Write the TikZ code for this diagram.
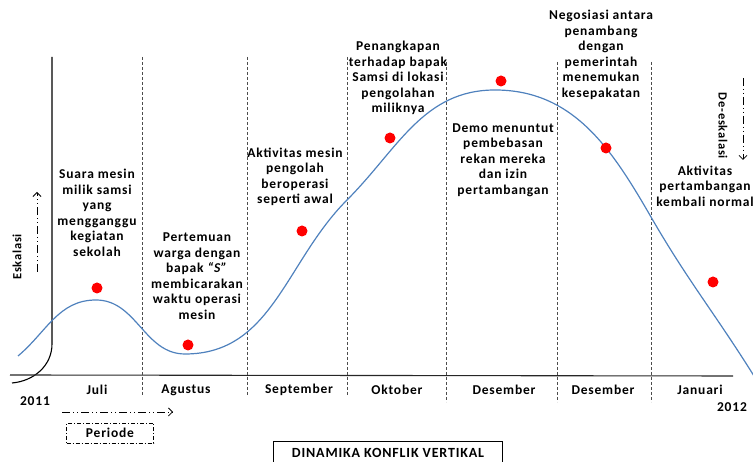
\documentclass[tikz,border=0pt]{standalone}
\usepackage{fontspec}
\setmainfont{Carlito}[LetterSpace=6]
\usetikzlibrary{calc}
\usetikzlibrary{arrows.meta}
\definecolor{kurva}{RGB}{79,129,189}

\begin{document}
\begin{tikzpicture}[
    x=1pt, y=1pt,
    % --- Stílusok ---
    axis/.style = {color=#1, line width=1.1pt},           % tengelyek
    curve/.style = {color=#1, line width=1.2pt},          % konfliktus görbe
    point/.style = {circle, fill=red, inner sep=0pt, minimum size=11pt}, % események
    guide/.style = {color=#1, line width=0.8pt, dash pattern=on 3pt off 2pt}, % hónaphatárok
    flow/.style = {color=#1, thick, dash pattern=on 8pt off 3pt on 1pt off 3pt on 1pt off 3pt,
                   -{Straight Barb[length=4pt,width=8pt]}}, % irány nyilak
    event/.style = {align=center, font=\bfseries\fontsize{13.5}{15.5}\selectfont},
    label/.style = {font=\bfseries\fontsize{13.5}{15.5}\selectfont}
    ]

    % --- Kép mérete ---
    \useasboundingbox (0,0) rectangle (753,462);

    % --- Tengelyek ---
    \coordinate (Ytop) at (52,405);
    \coordinate (Ybend) at (52,118);
    \coordinate (Yend) at (12,79);
    \coordinate (Xstart) at (10,87);
    \coordinate (Xend) at (733,86);
    \draw[axis={black}] (Ytop) -- (Ybend) to[out=-90,in=5] (Yend);
    \draw[axis={black!85}] (Xstart) -- (Xend);

    % --- Hónaphatárok ---
    \foreach \x/\t/\b [count=\i] in {142/405/67, 247/405/67, 347/405/67, 446/400/60, 557/400/60, 651/400/60} {
        \coordinate (G\i t) at (\x,\t);
        \coordinate (G\i b) at (\x,\b);
        \draw[guide={black!70}] (G\i t) -- (G\i b);
    }

    % --- Konfliktus görbe ---
    \coordinate (K0) at (18,106);
    \coordinate (K1) at (96,162);
    \coordinate (K2) at (185,108);
    \coordinate (K3) at (347,262);
    \coordinate (K4) at (495,372);
    \coordinate (K5) at (651,245);
    \coordinate (K6) at (754,86);
    \draw[curve={kurva}] (K0) to[out=40,in=180] (K1) to[out=0,in=180] (K2)
        to[out=0,in=-135] (K3) to[out=45,in=180] (K4) to[out=0,in=120] (K5)
        to[out=-60,in=122] (K6);

    % --- Események ---
    \node[point] (P1) at (97,174) {};
    \node[point] (P2) at (188,117) {};
    \node[point] (P3) at (302,231) {};
    \node[point] (P4) at (390,324) {};
    \node[point] (P5) at (501,381) {};
    \node[point] (P6) at (606,314) {};
    \node[point] (P7) at (713,180) {};

    \node[event] (E1) at (97,249) {Suara mesin\\milik samsi\\yang\\mengganggu\\kegiatan\\sekolah};
    \node[event] (E2) at (197,186) {Pertemuan\\warga dengan\\bapak \textit{“S”}\\membicarakan\\waktu operasi\\mesin};
    \node[event] (E3) at (295,285) {Aktivitas mesin\\pengolah\\beroperasi\\seperti awal};
    \node[event] (E4) at (398,384) {Penangkapan\\terhadap bapak\\Samsi di lokasi\\pengolahan\\miliknya};
    \node[event] (E5) at (503,302) {Demo menuntut\\pembebasan\\rekan mereka\\dan izin\\pertambangan};
    \node[event] (E6) at (601,407) {Negosiasi antara\\penambang\\dengan\\pemerintah\\menemukan\\kesepakatan};
    \node[event] (E7) at (705,276) {Aktivitas\\pertambangan\\kembali normal};

    % --- Hónapok ---
    \foreach \x/\m [count=\i] in {97/Juli, 186/Agustus, 299/September, 397/Oktober, 504/Desember, 603/Desember, 700/Januari} {
        \node[label] (M\i) at (\x,72) {\m};
    }
    \node[label] (Y1) at (35,61) {2011};
    \node[label] (Y2) at (732,55) {2012};

    % --- Periode ---
    \coordinate (R1) at (62,50);
    \coordinate (R2) at (173,50);
    \draw[flow={black}] (R1) -- (R2);
    \node[label, draw, dash pattern=on 4pt off 2pt on 1pt off 2pt, minimum width=87pt, minimum height=20pt] (Per) at (110,29) {Periode};

    % --- Eskalasi / De-eskalasi ---
    \node[label, font=\bfseries\fontsize{12.5}{14}\selectfont, rotate=90] (Esk) at (17,205) {Eskalasi};
    \coordinate (S1) at (37,190);
    \coordinate (S2) at (37,270);
    \draw[flow={black}] (S1) -- (S2);
    \node[label, font=\bfseries\fontsize{12.5}{14}\selectfont, rotate=-90] (Desk) at (723,336) {De-eskalasi};
    \coordinate (D1) at (743,384);
    \coordinate (D2) at (743,302);
    \draw[flow={black}] (D1) -- (D2);

    % --- Cím ---
    \node[draw, thick, font=\bfseries\fontsize{14}{16}\selectfont, minimum width=229pt, minimum height=24pt] (Title) at (388,9) {DINAMIKA KONFLIK VERTIKAL};
\end{tikzpicture}
\end{document}
